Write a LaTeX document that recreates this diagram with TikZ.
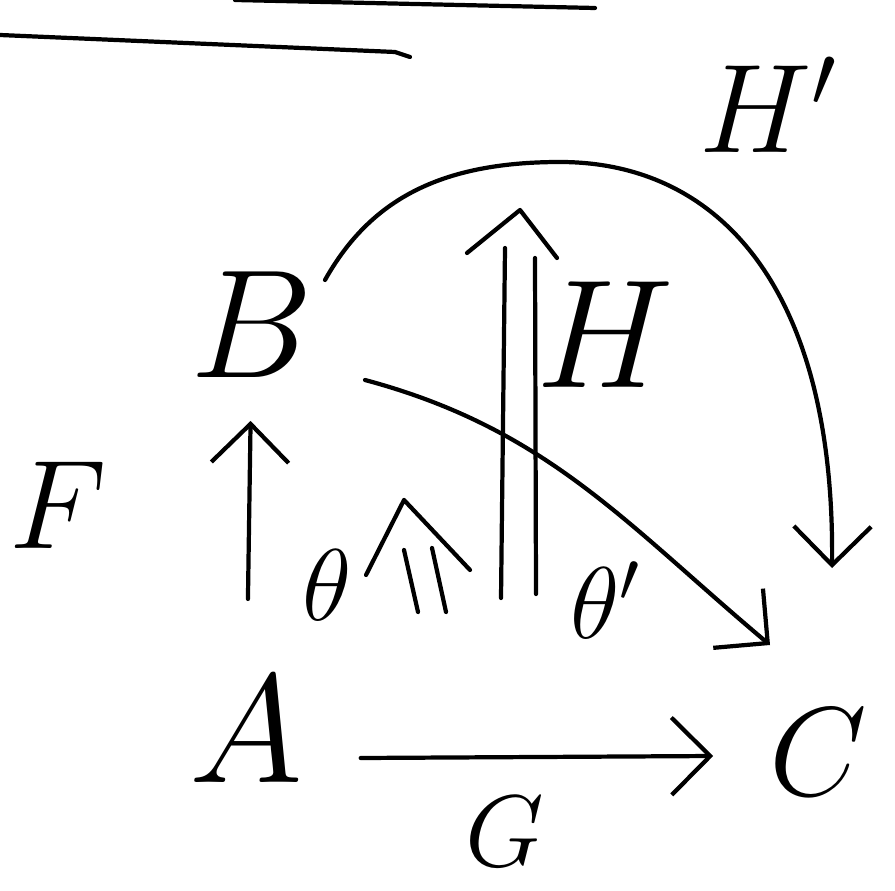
\documentclass[tikz,border=0pt]{standalone}
\usepackage{fix-cm}
\usetikzlibrary{arrows.meta}

\tikzset{
  big/.style={font=\fontsize{88}{96}\selectfont},
  mid/.style={font=\fontsize{72}{80}\selectfont},
  sml/.style={font=\fontsize{58}{64}\selectfont},
  barb/.style={-{Straight Barb[length=22pt,width=44pt]}},
}

\begin{document}
\begin{tikzpicture}[x=0.02cm,y=0.02cm,line width=2.4pt,line cap=round,line join=round]
\useasboundingbox (0,0) rectangle (895,890);

% objects
\node[big] (B) at (252,565) {$B$};
\node[big] (A) at (246,160) {$A$};
\node[mid] (C) at (818,138) {$C$};

% labels
\node[mid] (F) at (58,385) {$F$};
\node[sml] (G) at (505,58) {$G$};
\node[big] (H) at (605,555) {$H$};
\node[mid] (Hp) at (768,785) {$H'$};
\node[sml] (th) at (327,305) {$\theta$};
\node[sml] (thp) at (605,290) {$\theta'$};

% strokes at the top
\draw (0,855) -- (395,838) -- (410,833);
\draw (235,890) -- (595,882);

% 1-cells
\draw[barb, shorten <=40pt, shorten >=20pt] (A) -- (B);
\draw[barb] ([shift={(50,-28)}]A.east) -- ([shift={(-48,-4)}]C.west);
\draw[barb] ([shift={(113,-55)}]B.center) to[out=-15,in=140] ([shift={(-48,107)}]C.center);
\draw[barb] ([shift={(73,45)}]B.center) .. controls (370,690) and (440,728) .. (560,728)
  .. controls (720,728) and (835,600) .. ([shift={(14,184)}]C.center);

% 2-cells
\coordinate (t2) at (404,390);
\draw (418,278) -- (404,340) (446,278) -- (432,342);
\draw (t2) -- ++(-38,-75) (t2) -- ++(66,-70);

\coordinate (s2) at (520,680);
\draw (501,292) -- (505,642) (536,296) -- (535,632);
\draw (s2) -- ++(-53,-43) (s2) -- ++(37,-48);

\end{tikzpicture}
\end{document}
